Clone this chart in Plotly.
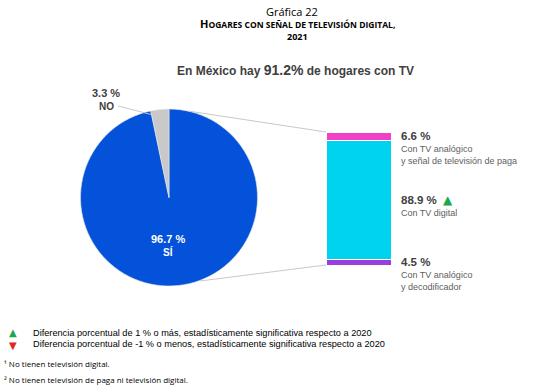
import plotly.graph_objects as go

W, H = 560, 391

# ---- data ----
pie_labels = ["SÍ", "NO"]
pie_values = [96.7, 3.3]
pie_colors = ["#0352d9", "#c9c9c9"]

bar_labels = ["Con TV analógico<br>y decodificador",
              "Con TV digital",
              "Con TV analógico<br>y señal de televisión de paga"]
bar_values = [4.5, 88.9, 6.6]
bar_colors = ["#9c3ddb", "#00d3f0", "#f23fc7"]
bar_flags = ["", "up", ""]

title_main = "Gráfica 22"
subtitle = "En México hay 91.2% de hogares con TV"
legend_up = "Diferencia porcentual de 1 % o más, estadísticamente significativa respecto a 2020"
legend_down = "Diferencia porcentual de -1 % o menos, estadísticamente significativa respecto a 2020"
notes = ["¹ No tienen televisión digital.",
         "² No tienen televisión de paga ni televisión digital."]


def px(x):
    return x / W


def py(y):
    return 1 - y / H


# geometry (pixels)
cx, cy, r = 169, 197.5, 88.5
bx0, bx1, by0, by1 = 326, 391, 132, 265

fig = go.Figure()

fig.add_trace(go.Pie(
    labels=pie_labels, values=pie_values, sort=False, direction="clockwise",
    rotation=0, marker=dict(colors=pie_colors, line=dict(color="#e8e8e8", width=0.6)),
    textinfo="none", hoverinfo="label+percent", showlegend=False,
    domain=dict(x=[px(cx - r), px(cx + r)], y=[py(cy + r), py(cy - r)]),
))

for lab, v, c in zip(bar_labels, bar_values, bar_colors):
    fig.add_trace(go.Bar(
        x=[0], y=[v], marker=dict(color=c, line=dict(color="white", width=1)),
        width=1, showlegend=False, name=lab, hoverinfo="y",
        xaxis="x", yaxis="y",
    ))

fig.update_layout(
    width=W, height=H, margin=dict(l=0, r=0, t=0, b=0),
    paper_bgcolor="white", plot_bgcolor="rgba(0,0,0,0)",
    barmode="stack",
    xaxis=dict(domain=[px(bx0), px(bx1)], range=[-0.5, 0.5], visible=False, fixedrange=True),
    yaxis=dict(domain=[py(by1), py(by0)], range=[0, sum(bar_values)], visible=False, fixedrange=True),
    font=dict(family="Liberation Sans, Arial, sans-serif", color="#404040"),
)

shapes = []
# connector lines
shapes.append(dict(type="line", xref="paper", yref="paper",
                   x0=px(188), y0=py(111), x1=px(bx0), y1=py(by0),
                   line=dict(color="#c8c8c8", width=1)))
shapes.append(dict(type="line", xref="paper", yref="paper",
                   x0=px(200), y0=py(281), x1=px(bx0), y1=py(by1),
                   line=dict(color="#c8c8c8", width=1)))
# NO leader line
shapes.append(dict(type="line", xref="paper", yref="paper",
                   x0=px(118), y0=py(106), x1=px(161), y1=py(117),
                   line=dict(color="#c8c8c8", width=1)))
fig.update_layout(shapes=shapes)

ann = []


def A(text, x, y, xa="center", ya="middle", yref="paper", **kw):
    d = dict(text=text, x=x, y=y, xref="paper", yref=yref, xanchor=xa, yanchor=ya,
             showarrow=False)
    d.update(kw)
    ann.append(d)


tfont = "Open Sans, Noto Sans, sans-serif"
A(title_main, px(292), py(11), font=dict(family=tfont, size=11, color="#000"))
t2 = "<b>H<span style='font-size:8.5px'>OGARES CON SEÑAL DE TELEVISIÓN DIGITAL,</span></b>"
A(t2, px(297), py(23), font=dict(family=tfont, size=11, color="#000"))
A("<b>2021</b>", px(297), py(37), font=dict(family=tfont, size=9, color="#000"))

sub_parts = subtitle.split("91.2%")
sub_html = "<b>" + sub_parts[0] + "<span style='font-size:14px'>91.2%</span>" + sub_parts[1] + "</b>"
A(sub_html, px(295), py(70), font=dict(size=12, color="#404040"))

# pie labels
A("<b>%.1f %%</b>" % pie_values[1], px(106), py(93), font=dict(size=11, color="#404040"))
A("<b>%s</b>" % pie_labels[1], px(106), py(106), font=dict(size=10, color="#404040"))
A("<b>%.1f %%</b>" % pie_values[0], px(168), py(239), font=dict(size=11, color="white"))
A("<b>%s</b>" % pie_labels[0], px(168), py(252), font=dict(size=10, color="white"))

# bar labels
cum = 0
for lab, v, flag in zip(bar_labels, bar_values, bar_flags):
    mid = cum + v / 2
    cum += v
    A("<b>%.1f %%</b>" % v, px(399), mid, xa="left", ya="middle", yref="y",
      font=dict(size=11.5, color="#404040"))
    A(lab, px(399), mid, xa="left", ya="top", yref="y", yshift=-6, align="left",
      font=dict(size=9, color="#606060"))
    if flag == "up":
        A("▲", px(441), mid, xa="left", ya="middle", yref="y",
          font=dict(family="DejaVu Sans", size=12, color="#1aa84a"))

# legend
A("▲", px(7), py(332), xa="left", font=dict(family="DejaVu Sans", size=10, color="#1aa84a"))
A("▼", px(7), py(345), xa="left", font=dict(family="DejaVu Sans", size=10, color="#e3261c"))
A(legend_up, px(31), py(333), xa="left", font=dict(size=9.2, color="#000"))
A(legend_down, px(31), py(344), xa="left", font=dict(size=9.2, color="#000"))
for i, n in enumerate(notes):
    A(n, px(2), py(363 + 16 * i), xa="left", font=dict(family=tfont, size=8, color="#000"))

fig.update_layout(annotations=ann)
fig.write_html("out.html", config={"displayModeBar": False},
               post_script="document.body.style.margin='0';document.body.style.overflow='hidden';")
